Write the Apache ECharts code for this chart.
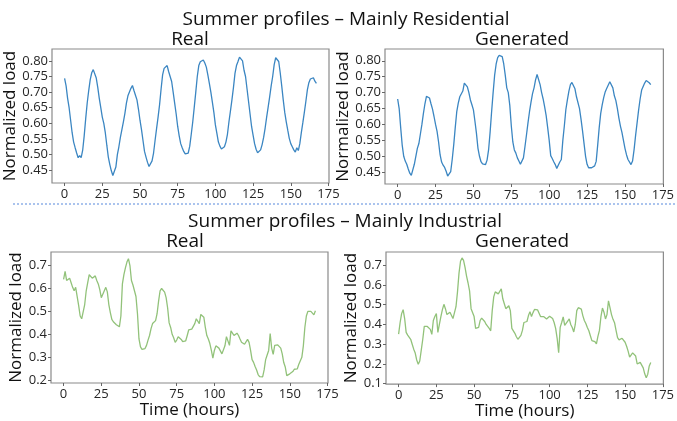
<!DOCTYPE html>
<html>
<head>
<meta charset="utf-8">
<script src="https://cdn.jsdelivr.net/npm/echarts@6/dist/echarts.min.js"></script>
<style>
html, body { margin: 0; padding: 0; background: #fff; }
#main { width: 677px; height: 421px; }
</style>
</head>
<body>
<div id="main"></div>
<script>
/***** data (one value per hour) *****/
var hourTicks = [0, 25, 50, 75, 100, 125, 150, 175];
var resTicks = [0.45, 0.50, 0.55, 0.60, 0.65, 0.70, 0.75, 0.80];
var indRealTicks = [0.2, 0.3, 0.4, 0.5, 0.6, 0.7];
var indGenTicks = [0.1, 0.2, 0.3, 0.4, 0.5, 0.6, 0.7];

var resReal = [
	0.744, 0.72, 0.68, 0.65, 0.61, 0.57, 0.54, 0.522, 0.505, 0.49,
	0.497, 0.49, 0.514, 0.56, 0.615, 0.665, 0.705, 0.74, 0.762, 0.772,
	0.77, 0.745, 0.715, 0.68, 0.65, 0.62, 0.60, 0.57, 0.53, 0.492,
	0.468, 0.448, 0.433, 0.435, 0.46, 0.50, 0.525, 0.555, 0.58, 0.605,
	0.632, 0.665, 0.688, 0.70, 0.712, 0.721, 0.705, 0.69, 0.675, 0.645,
	0.61, 0.58, 0.545, 0.51, 0.492, 0.475, 0.462, 0.462, 0.48, 0.505,
	0.545, 0.583, 0.62, 0.66, 0.71, 0.755, 0.776, 0.78, 0.785, 0.766,
	0.75, 0.734, 0.70, 0.665, 0.63, 0.59, 0.56, 0.535, 0.522, 0.51,
	0.502, 0.496, 0.505, 0.527, 0.565, 0.605, 0.652, 0.70, 0.75, 0.785,
	0.797, 0.798, 0.803, 0.793, 0.78, 0.755, 0.728, 0.70, 0.668, 0.635,
	0.595, 0.568, 0.54, 0.527, 0.518, 0.514, 0.525, 0.54, 0.565, 0.605,
	0.64, 0.676, 0.715, 0.76, 0.785, 0.798, 0.812, 0.816, 0.80, 0.77,
	0.75, 0.71, 0.67, 0.63, 0.59, 0.562, 0.535, 0.517, 0.506, 0.501,
	0.515, 0.532, 0.555, 0.585, 0.62, 0.652, 0.685, 0.72, 0.75, 0.788,
	0.81, 0.814, 0.798, 0.762, 0.72, 0.675, 0.635, 0.605, 0.578, 0.552,
	0.535, 0.525, 0.515, 0.508, 0.522, 0.513, 0.535, 0.57, 0.602, 0.635,
	0.67, 0.707, 0.73, 0.742, 0.747, 0.746, 0.735, 0.728
];
var resGen = [
	0.68, 0.65, 0.59, 0.535, 0.50, 0.485, 0.475, 0.46, 0.447, 0.44,
	0.442, 0.475, 0.50, 0.525, 0.54, 0.57, 0.60, 0.635, 0.665, 0.688,
	0.692, 0.683, 0.665, 0.648, 0.625, 0.60, 0.578, 0.545, 0.505, 0.482,
	0.472, 0.465, 0.453, 0.438, 0.432, 0.452, 0.49, 0.536, 0.59, 0.64,
	0.667, 0.687, 0.686, 0.705, 0.73, 0.735, 0.718, 0.70, 0.677, 0.662,
	0.646, 0.61, 0.572, 0.525, 0.50, 0.483, 0.476, 0.474, 0.474, 0.488,
	0.52, 0.575, 0.64, 0.70, 0.755, 0.79, 0.81, 0.817, 0.818, 0.813,
	0.79, 0.755, 0.715, 0.70, 0.66, 0.595, 0.545, 0.52, 0.51, 0.495,
	0.485, 0.475, 0.478, 0.495, 0.53, 0.567, 0.605, 0.64, 0.67, 0.697,
	0.715, 0.74, 0.757, 0.758, 0.725, 0.70, 0.68, 0.655, 0.628, 0.59,
	0.55, 0.502, 0.493, 0.483, 0.474, 0.462, 0.465, 0.482, 0.49, 0.55,
	0.596, 0.647, 0.677, 0.705, 0.725, 0.732, 0.73, 0.712, 0.687, 0.682,
	0.65, 0.617, 0.58, 0.54, 0.50, 0.475, 0.464, 0.468, 0.464, 0.466,
	0.47, 0.484, 0.535, 0.59, 0.635, 0.662, 0.685, 0.703, 0.714, 0.724,
	0.734, 0.732, 0.715, 0.69, 0.675, 0.65, 0.62, 0.595, 0.575, 0.55,
	0.525, 0.505, 0.49, 0.487, 0.474, 0.485, 0.52, 0.565, 0.605, 0.645,
	0.68, 0.708, 0.713, 0.73, 0.738, 0.742, 0.731, 0.725
];
var indReal = [
	0.64, 0.675, 0.635, 0.64, 0.645, 0.625, 0.605, 0.59, 0.605, 0.60,
	0.525, 0.48, 0.468, 0.47, 0.53, 0.59, 0.625, 0.66, 0.652, 0.645,
	0.648, 0.655, 0.635, 0.62, 0.595, 0.56, 0.555, 0.59, 0.605, 0.585,
	0.53, 0.495, 0.465, 0.455, 0.448, 0.442, 0.436, 0.433, 0.48, 0.62,
	0.66, 0.69, 0.715, 0.73, 0.70, 0.635, 0.615, 0.59, 0.565, 0.49,
	0.38, 0.345, 0.335, 0.33, 0.338, 0.352, 0.375, 0.395, 0.425, 0.447,
	0.448, 0.46, 0.49, 0.545, 0.59, 0.60, 0.595, 0.584, 0.56, 0.515,
	0.45, 0.43, 0.40, 0.385, 0.365, 0.375, 0.39, 0.388, 0.378, 0.368,
	0.365, 0.372, 0.395, 0.42, 0.428, 0.423, 0.435, 0.447, 0.468, 0.466,
	0.447, 0.487, 0.493, 0.475, 0.43, 0.395, 0.38, 0.36, 0.33, 0.296,
	0.33, 0.35, 0.345, 0.34, 0.332, 0.315, 0.312, 0.35, 0.39, 0.388,
	0.352, 0.415, 0.405, 0.395, 0.40, 0.405, 0.395, 0.38, 0.366, 0.36,
	0.357, 0.36, 0.378, 0.365, 0.33, 0.29, 0.278, 0.26, 0.245, 0.225,
	0.216, 0.215, 0.215, 0.245, 0.29, 0.31, 0.33, 0.403, 0.34, 0.313,
	0.352, 0.357, 0.354, 0.348, 0.34, 0.315, 0.277, 0.258, 0.22, 0.212,
	0.228, 0.232, 0.238, 0.248, 0.256, 0.25, 0.27, 0.276, 0.30, 0.35,
	0.43, 0.48, 0.50, 0.502, 0.50, 0.497, 0.485, 0.503
];
var indGen = [
	0.351, 0.41, 0.455, 0.475, 0.43, 0.36, 0.346, 0.346, 0.325, 0.30,
	0.275, 0.255, 0.22, 0.198, 0.215, 0.27, 0.325, 0.39, 0.395, 0.39,
	0.385, 0.375, 0.35, 0.42, 0.44, 0.455, 0.36, 0.40, 0.44, 0.475,
	0.502, 0.48, 0.45, 0.45, 0.462, 0.455, 0.43, 0.42, 0.49, 0.565,
	0.66, 0.72, 0.737, 0.725, 0.689, 0.645, 0.61, 0.57, 0.48, 0.48,
	0.44, 0.38, 0.375, 0.385, 0.42, 0.432, 0.44, 0.415, 0.40, 0.393,
	0.38, 0.368, 0.47, 0.54, 0.565, 0.56, 0.555, 0.552, 0.58, 0.53,
	0.505, 0.48, 0.47, 0.495, 0.47, 0.38, 0.375, 0.355, 0.338, 0.325,
	0.33, 0.345, 0.37, 0.41, 0.40, 0.415, 0.445, 0.465, 0.44, 0.46,
	0.476, 0.478, 0.474, 0.465, 0.44, 0.45, 0.44, 0.44, 0.428, 0.438,
	0.442, 0.44, 0.43, 0.41, 0.38, 0.33, 0.257, 0.385, 0.41, 0.438,
	0.395, 0.385, 0.417, 0.428, 0.40, 0.385, 0.362, 0.40, 0.47, 0.485,
	0.488, 0.478, 0.445, 0.42, 0.405, 0.385, 0.368, 0.343, 0.318, 0.323,
	0.313, 0.302, 0.34, 0.37, 0.44, 0.483, 0.462, 0.428, 0.45, 0.52,
	0.52, 0.45, 0.426, 0.409, 0.37, 0.333, 0.322, 0.33, 0.33, 0.335,
	0.31, 0.29, 0.265, 0.235, 0.245, 0.256, 0.255, 0.24, 0.20, 0.203,
	0.208, 0.21, 0.18, 0.15, 0.13, 0.148, 0.19, 0.207
];

/***** helpers *****/
var FONT = 'Open Sans';
var blue = '#3b86c2';
var green = '#92c27a';

function toPairs(arr) {
	return arr.map(function (v, i) { return [i, v]; });
}

function xAxisOf(gi, withName) {
	return {
		type: 'value', gridIndex: gi, min: -8.35, max: 175.35,
		axisLine: { show: false, onZero: false },
		splitLine: { show: false },
		axisTick: { show: true, customValues: hourTicks, length: 3, lineStyle: { color: '#666', width: 1 } },
		axisLabel: { customValues: hourTicks, fontSize: 13, color: '#262626', margin: 5, fontFamily: FONT },
		name: withName ? 'Time (hours)' : '',
		nameLocation: 'middle', nameGap: 17,
		nameTextStyle: { fontSize: 17, color: '#111', fontFamily: FONT }
	};
}

function yAxisOf(gi, lo, hi, ticks, digits, gap) {
	return {
		type: 'value', gridIndex: gi, min: lo, max: hi,
		axisLine: { show: false, onZero: false },
		splitLine: { show: false },
		axisTick: { show: true, customValues: ticks, length: 3, lineStyle: { color: '#666', width: 1 } },
		axisLabel: {
			customValues: ticks, fontSize: 13, color: '#262626', margin: 4, fontFamily: FONT,
			formatter: function (v) { return v.toFixed(digits); }
		},
		name: 'Normalized load', nameLocation: 'middle', nameRotate: 90, nameGap: gap,
		nameTextStyle: { fontSize: 17, color: '#111', fontFamily: FONT }
	};
}

function gridOf(l, t, w, h) {
	return { left: l, top: t, width: w, height: h, show: true, borderColor: '#8a8a8a', borderWidth: 1.2, backgroundColor: '#fff' };
}

function lineOf(gi, arr, color) {
	return {
		type: 'line', xAxisIndex: gi, yAxisIndex: gi, data: toPairs(arr),
		showSymbol: false, silent: true,
		lineStyle: { color: color, width: 1.3 }
	};
}

function label(x, y, txt, size) {
	return {
		type: 'text', x: x, y: y,
		style: { text: txt, fontSize: size, fontFamily: FONT, fill: '#111', textAlign: 'center', textVerticalAlign: 'middle' }
	};
}

var myChart = echarts.init(document.getElementById('main'));
myChart.setOption({
	animation: false,
	textStyle: { fontFamily: FONT },
	grid: [
		gridOf(52, 49, 277, 134),
		gridOf(385, 49, 283, 135),
		gridOf(51, 252, 277, 131),
		gridOf(386, 252, 282, 136)
	],
	xAxis: [xAxisOf(0, false), xAxisOf(1, false), xAxisOf(2, true), xAxisOf(3, true)],
	yAxis: [
		yAxisOf(0, 0.409, 0.838, resTicks, 2, 27),
		yAxisOf(1, 0.413, 0.837, resTicks, 2, 28),
		yAxisOf(2, 0.188, 0.759, indRealTicks, 1, 23),
		yAxisOf(3, 0.098, 0.767, indGenTicks, 1, 20)
	],
	series: [
		lineOf(0, resReal, blue),
		lineOf(1, resGen, blue),
		lineOf(2, indReal, green),
		lineOf(3, indGen, green)
	],
	graphic: [
		label(346, 20, 'Summer profiles – Mainly Residential', 19),
		label(190, 40, 'Real', 19),
		label(522, 40, 'Generated', 19),
		{
			type: 'line', shape: { x1: 13, y1: 204, x2: 677, y2: 204 },
			style: { stroke: '#8fb0e8', lineWidth: 1.5, lineDash: [2, 2] }
		},
		label(345, 222, 'Summer profiles – Mainly Industrial', 19),
		label(185, 242, 'Real', 19),
		label(522, 242, 'Generated', 19)
	]
});
</script>
</body>
</html>
